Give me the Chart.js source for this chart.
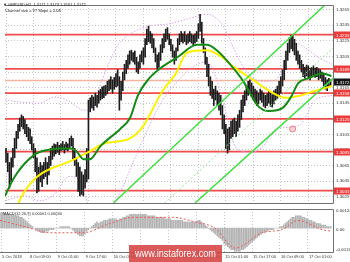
<!DOCTYPE html>
<html>
<head>
<meta charset="utf-8">
<title>GBPUSD H1</title>
<script src="https://cdn.jsdelivr.net/npm/chart.js@4.4.1/dist/chart.umd.min.js"></script>
<style>
  html, body { margin: 0; padding: 0; background: #fff; }
  #wrap { position: relative; width: 350px; height: 262px; overflow: hidden; }
  #main { position: absolute; left: 0; top: 0; }
  #macd { position: absolute; left: 0; top: 208px; }
  #mark { position: absolute; left: 129px; top: 245px; width: 93px; height: 17px;
          background: rgba(214, 66, 66, 0.88); color: #fff; overflow: hidden;
          font: 11px "Liberation Sans", Arial, sans-serif; line-height: 17px; white-space: nowrap; }
  #mark span { display: inline-block; transform-origin: 0 50%; margin-left: 6px; }
</style>
</head>
<body>
<div id="wrap">
  <canvas id="main" width="350" height="208"></canvas>
  <canvas id="macd" width="350" height="54"></canvas>
  <div id="mark"><span id="markText">www.instaforex.com</span></div>
</div>
<script>
// x axis: one step per H1 bar
const xMin = -0.6, xMax = 190.4;
const tickIdx = [0, 16, 32, 48, 64, 80, 96, 112, 128, 144, 160, 176];
const tickText = ['5 Oct 2018', '8 Oct 09:00', '9 Oct 01:00', '9 Oct 17:00', '10 Oct 09:00', '11 Oct 01:00',
                  '11 Oct 17:00', '12 Oct 09:00', '15 Oct 01:00', '15 Oct 17:00', '16 Oct 09:00', '17 Oct 01:00'];

const priceMin = 1.3017, priceMax = 1.3271;
const priceTicks = [1.3025, 1.3045, 1.3065, 1.3085, 1.3105, 1.3125, 1.3145, 1.3165, 1.3185, 1.3205, 1.3225, 1.3245, 1.3265];

const highs = [
  1.3087, 1.3081, 1.3069, 1.3075, 1.3087, 1.3100, 1.3109, 1.3118, 1.3126, 1.3130,
  1.3128, 1.3124, 1.3118, 1.3114, 1.3112, 1.3102, 1.3093, 1.3087, 1.3075, 1.3063,
  1.3069, 1.3065, 1.3069, 1.3075, 1.3069, 1.3077, 1.3087, 1.3090, 1.3093, 1.3092,
  1.3095, 1.3091, 1.3093, 1.3096, 1.3092, 1.3095, 1.3093, 1.3100, 1.3103, 1.3100,
  1.3087, 1.3075, 1.3069, 1.3063, 1.3057, 1.3053, 1.3060, 1.3087, 1.3149, 1.3152,
  1.3155, 1.3153, 1.3158, 1.3155, 1.3161, 1.3163, 1.3166, 1.3167, 1.3168, 1.3173,
  1.3175, 1.3179, 1.3175, 1.3178, 1.3183, 1.3188, 1.3179, 1.3173, 1.3185, 1.3195,
  1.3200, 1.3207, 1.3212, 1.3213, 1.3210, 1.3212, 1.3204, 1.3198, 1.3207, 1.3212,
  1.3216, 1.3228, 1.3240, 1.3244, 1.3237, 1.3234, 1.3228, 1.3216, 1.3207, 1.3210,
  1.3220, 1.3228, 1.3234, 1.3240, 1.3242, 1.3234, 1.3227, 1.3220, 1.3212, 1.3216,
  1.3228, 1.3234, 1.3237, 1.3234, 1.3237, 1.3232, 1.3234, 1.3237, 1.3234, 1.3232,
  1.3234, 1.3237, 1.3247, 1.3259, 1.3249, 1.3228, 1.3216, 1.3204, 1.3195, 1.3179,
  1.3173, 1.3163, 1.3167, 1.3161, 1.3158, 1.3155, 1.3142, 1.3130, 1.3118, 1.3112,
  1.3114, 1.3122, 1.3124, 1.3126, 1.3122, 1.3130, 1.3136, 1.3149, 1.3155, 1.3161,
  1.3167, 1.3173, 1.3175, 1.3171, 1.3167, 1.3163, 1.3161, 1.3158, 1.3163, 1.3161,
  1.3158, 1.3155, 1.3157, 1.3161, 1.3158, 1.3156, 1.3161, 1.3163, 1.3167, 1.3173,
  1.3179, 1.3188, 1.3200, 1.3212, 1.3222, 1.3229, 1.3232, 1.3232, 1.3227, 1.3222,
  1.3212, 1.3207, 1.3200, 1.3195, 1.3191, 1.3194, 1.3193, 1.3190, 1.3191, 1.3193,
  1.3190, 1.3191, 1.3189, 1.3188, 1.3185, 1.3182, 1.3178, 1.3175, 1.3177, 1.3175
];
const lows = [
  1.3069, 1.3057, 1.3036, 1.3044, 1.3063, 1.3075, 1.3087, 1.3100, 1.3109, 1.3115,
  1.3112, 1.3106, 1.3102, 1.3097, 1.3093, 1.3085, 1.3075, 1.3057, 1.3030, 1.3032,
  1.3044, 1.3038, 1.3048, 1.3051, 1.3041, 1.3053, 1.3065, 1.3073, 1.3077, 1.3080,
  1.3082, 1.3079, 1.3084, 1.3085, 1.3081, 1.3085, 1.3084, 1.3087, 1.3090, 1.3073,
  1.3065, 1.3051, 1.3032, 1.3026, 1.3028, 1.3026, 1.3036, 1.3044, 1.3048, 1.3134,
  1.3139, 1.3136, 1.3142, 1.3140, 1.3145, 1.3149, 1.3151, 1.3152, 1.3155, 1.3157,
  1.3161, 1.3163, 1.3158, 1.3163, 1.3166, 1.3167, 1.3136, 1.3149, 1.3161, 1.3175,
  1.3183, 1.3190, 1.3195, 1.3200, 1.3198, 1.3195, 1.3185, 1.3183, 1.3190, 1.3198,
  1.3195, 1.3204, 1.3220, 1.3224, 1.3222, 1.3216, 1.3210, 1.3198, 1.3189, 1.3191,
  1.3200, 1.3210, 1.3216, 1.3224, 1.3227, 1.3220, 1.3212, 1.3204, 1.3195, 1.3200,
  1.3212, 1.3220, 1.3224, 1.3222, 1.3224, 1.3220, 1.3222, 1.3224, 1.3222, 1.3220,
  1.3222, 1.3224, 1.3228, 1.3237, 1.3222, 1.3210, 1.3195, 1.3179, 1.3167, 1.3155,
  1.3151, 1.3142, 1.3149, 1.3142, 1.3136, 1.3130, 1.3112, 1.3106, 1.3087, 1.3081,
  1.3085, 1.3100, 1.3102, 1.3106, 1.3102, 1.3109, 1.3114, 1.3124, 1.3134, 1.3142,
  1.3149, 1.3155, 1.3158, 1.3153, 1.3149, 1.3146, 1.3142, 1.3144, 1.3149, 1.3146,
  1.3141, 1.3139, 1.3142, 1.3145, 1.3141, 1.3140, 1.3144, 1.3149, 1.3151, 1.3155,
  1.3158, 1.3167, 1.3175, 1.3188, 1.3200, 1.3210, 1.3215, 1.3212, 1.3207, 1.3200,
  1.3195, 1.3190, 1.3185, 1.3179, 1.3177, 1.3180, 1.3178, 1.3175, 1.3179, 1.3180,
  1.3178, 1.3179, 1.3175, 1.3177, 1.3173, 1.3167, 1.3163, 1.3161, 1.3166, 1.3168
];

// moving averages, [bar, price]
const maGreen = [[-0.6, 1.3026], [5.1, 1.3051], [16.6, 1.3079], [24.1, 1.3085], [30.9, 1.3087], [37.8, 1.3087],
  [40.7, 1.3084], [45.3, 1.3073], [48.7, 1.3073], [55.0, 1.3090], [66.5, 1.3112], [72.2, 1.3126], [76.8, 1.3155],
  [82.6, 1.3175], [89.4, 1.3189], [99.8, 1.3204], [111.2, 1.3220], [117.0, 1.3220], [122.7, 1.3213], [128.5, 1.3200],
  [138.2, 1.3173], [142.8, 1.3155], [147.4, 1.3140], [153.1, 1.3135], [161.1, 1.3139], [165.7, 1.3152],
  [170.3, 1.3171], [176.1, 1.3177], [184.1, 1.3183], [189.5, 1.3180]];
const maYellow = [[6.0, 1.3010], [9.2, 1.3026], [18.3, 1.3051], [37.8, 1.3071], [49.3, 1.3084], [56.8, 1.3093],
  [72.2, 1.3100], [79.7, 1.3115], [91.2, 1.3161], [98.6, 1.3182], [105.5, 1.3210], [117.0, 1.3213], [124.4, 1.3206],
  [134.2, 1.3189], [143.9, 1.3175], [153.1, 1.3161], [162.9, 1.3152], [171.5, 1.3155], [180.1, 1.3161], [189.8, 1.3167]];

// envelope bands (violet dotted)
const bandUpper = [[-0.6, 1.3149], [10.9, 1.3146], [19.5, 1.3145], [28.1, 1.3153], [35.5, 1.3149], [45.3, 1.3136],
  [49.3, 1.3136], [53.9, 1.3163], [59.6, 1.3195], [65.4, 1.3220], [72.2, 1.3234], [83.7, 1.3244], [95.2, 1.3247],
  [105.5, 1.3253], [117.0, 1.3259], [125.6, 1.3247], [131.3, 1.3222], [137.1, 1.3195], [142.8, 1.3179],
  [149.7, 1.3173], [157.1, 1.3175], [162.9, 1.3200], [168.6, 1.3222], [174.3, 1.3216], [181.8, 1.3204], [189.8, 1.3195]];
const bandLower = [[-0.6, 1.3020], [10.9, 1.3026], [19.5, 1.3020], [28.1, 1.3028], [36.7, 1.3051], [42.4, 1.3048],
  [48.2, 1.3014], [56.8, 1.2999], [65.4, 1.3026], [74.0, 1.3069], [82.6, 1.3112], [91.2, 1.3149], [99.8, 1.3173],
  [108.4, 1.3191], [117.0, 1.3198], [122.7, 1.3175], [128.5, 1.3130], [134.2, 1.3087], [142.8, 1.3082],
  [149.7, 1.3090], [157.1, 1.3112], [164.6, 1.3114], [171.5, 1.3118], [180.1, 1.3149], [189.8, 1.3155]];

// regression channel
const chanUpper = [[62.5, 1.3017], [191.5, 1.3283]];
const chanMiddle = [[92.3, 1.3017], [191.5, 1.3218]];
const chanLower = [[110.1, 1.3017], [191.5, 1.3179]];
const markPoint = [[166.9, 1.3112]];

const levels = [1.3233, 1.3189, 1.3158, 1.3125, 1.3083, 1.3033];
const softLevel = 1.3174;
const lastPrice = 1.3172;

// MACD(12,26,9)
const macdMin = -0.00155, macdMax = 0.00124;
const macdHist = [
  0.0010, 0.0010, 0.0010, 0.0009, 0.0009, 0.0009, 0.0009, 0.0009, 0.0008, 0.0008, 0.0008, 0.0007, 0.0007, 0.0006, 0.0005, 0.0004, 0.0003,
  0.0002, 0.0001, 0.0000, -0.0001, -0.0002, -0.0002, -0.0003, -0.0003, -0.0003, -0.0002, -0.0002, -0.0001,
  -0.0001, -0.0001, 0.0000, 0.0000, 0.0000, 0.0001, 0.0001, 0.0001, 0.0001, 0.0001, 0.0001, 0.0000, -0.0001, -0.0002, -0.0003, -0.0004, -0.0005,
  -0.0005, -0.0005, -0.0004, -0.0002, -0.0001, 0.0000, 0.0001, 0.0002, 0.0003, 0.0004,
  0.0003, 0.0004, 0.0004, 0.0005, 0.0005, 0.0005, 0.0006, 0.0006, 0.0006, 0.0006,
  0.0006, 0.0005, 0.0006, 0.0006, 0.0007, 0.0007, 0.0008, 0.0008, 0.0009, 0.0009,
  0.0009, 0.0009, 0.0009, 0.0009, 0.0009, 0.0009, 0.0009, 0.0009, 0.0008, 0.0008,
  0.0008, 0.0008, 0.0008, 0.0007, 0.0007, 0.0007, 0.0007, 0.0007, 0.0006, 0.0006,
  0.0006, 0.0006, 0.0005, 0.0005, 0.0005,
  0.0005, 0.0005, 0.0005, 0.0005, 0.0004, 0.0004, 0.0004, 0.0004, 0.0004, 0.0004, 0.0004, 0.0004, 0.0005, 0.0005,
  0.0004, 0.0003, 0.0002, 0.0001, 0.0000, -0.0001, -0.0002, -0.0003, -0.0004,
  -0.0005, -0.0006, -0.0007, -0.0008, -0.0010, -0.0011, -0.0012, -0.0013, -0.0014, -0.0014, -0.0015, -0.0015, -0.0015,
  -0.0015, -0.0014, -0.0014, -0.0013, -0.0012, -0.0011, -0.0010, -0.0009, -0.0008, -0.0007, -0.0006, -0.0005, -0.0004,
  -0.0003, -0.0003, -0.0002, -0.0002, -0.0001, -0.0001, -0.0001, 0.0000, 0.0000, 0.0000, 0.0001, 0.0001, 0.0002, 0.0003, 0.0004, 0.0005,
  0.0006, 0.0007, 0.0007, 0.0008, 0.0008, 0.0008, 0.0008, 0.0007, 0.0007, 0.0006, 0.0006, 0.0005,
  0.0005, 0.0004, 0.0004, 0.0003, 0.0003, 0.0003, 0.0002, 0.0002, 0.0002, 0.0001, 0.0001, 0.0001
];
const macdSignal = [[-0.6, 0.0005], [13.7, 0.0001], [28.1, -0.0003], [47.0, -0.0003], [62.5, 0.0003], [75.7, 0.0007],
  [98.6, 0.0007], [111.2, 0.0004], [122.7, 0.0000], [134.2, -0.0013], [149.7, -0.0003], [161.1, -0.0001],
  [170.3, 0.0005], [184.1, -0.0001], [189.8, -0.0002]];

const FONT = '"Liberation Sans", Arial, sans-serif';
const pts = arr => arr.map(p => ({ x: p[0], y: p[1] }));

function xAxis(height) {
  return {
    type: 'linear', min: xMin, max: xMax, offset: false, position: 'bottom',
    grid: { color: '#c4c4c4', drawTicks: false, offset: false },
    border: { display: false, dash: [1, 2] },
    ticks: { display: false },
    afterBuildTicks: s => { s.ticks = tickIdx.map(v => ({ value: v })); },
    afterFit: s => { s.height = height; }
  };
}

const mainDecor = {
  id: 'mainDecor',
  afterDraw(chart) {
    const { ctx, chartArea: a, scales: { y } } = chart;
    ctx.save();
    ctx.strokeStyle = '#707070';
    ctx.lineWidth = 1;
    ctx.beginPath();
    ctx.moveTo(a.left, a.top + 0.5);
    ctx.lineTo(a.right + 0.5, a.top + 0.5);
    ctx.lineTo(a.right + 0.5, a.bottom + 0.5);
    ctx.lineTo(a.left, a.bottom + 0.5);
    ctx.stroke();

    ctx.font = '4.4px ' + FONT;
    ctx.textBaseline = 'middle';
    ctx.fillStyle = '#333';
    priceTicks.forEach(v => ctx.fillText(v.toFixed(4), a.right + 3, y.getPixelForValue(v)));

    const tag = (v, bg) => {
      const py = Math.round(y.getPixelForValue(v));
      ctx.fillStyle = bg;
      ctx.fillRect(a.right + 1, py - 3.5, 16, 7);
      ctx.fillStyle = '#fff';
      ctx.fillText(v.toFixed(4), a.right + 3, py + 0.5);
    };
    levels.forEach(v => tag(v, '#ec3b3b'));
    tag(lastPrice, '#151515');

    ctx.fillStyle = '#222';
    ctx.font = '4px ' + FONT;
    ctx.textBaseline = 'alphabetic';
    ctx.fillText('\u25BC GBPUSD,H1  1.3171 1.3173 1.3161 1.3172', 3, 6);
    ctx.fillText('Channel size = 97 Slope = 2.08', 5, 12);
    ctx.restore();
  }
};

const macdDecor = {
  id: 'macdDecor',
  afterDraw(chart) {
    const { ctx, chartArea: a, scales: { x, y } } = chart;
    ctx.save();
    ctx.strokeStyle = '#707070';
    ctx.lineWidth = 1;
    ctx.beginPath();
    ctx.moveTo(a.left, a.top + 0.5);
    ctx.lineTo(a.right + 0.5, a.top + 0.5);
    ctx.lineTo(a.right + 0.5, a.bottom + 0.5);
    ctx.lineTo(a.left, a.bottom + 0.5);
    ctx.stroke();

    ctx.fillStyle = '#333';
    ctx.font = '4.4px ' + FONT;
    ctx.textBaseline = 'middle';
    ctx.fillText(macdMax.toFixed(5), a.right + 3, a.top + 2);
    ctx.fillText('0.00', a.right + 3, y.getPixelForValue(0) + 2);
    ctx.fillText(macdMin.toFixed(5), a.right + 3, a.bottom - 2);

    ctx.font = '4px ' + FONT;
    tickIdx.forEach((v, k) => ctx.fillText(tickText[k], x.getPixelForValue(v) + 1, a.bottom + 4.5));

    ctx.textBaseline = 'alphabetic';
    ctx.fillText('MACD(12,26,9) 0.00001 0.00040', 3, a.top + 6);
    ctx.restore();
  }
};

const flatLine = (v, color, width, order) => ({
  type: 'line', data: [{ x: xMin, y: v }, { x: xMax, y: v }],
  borderColor: color, borderWidth: width, pointRadius: 0, order: order
});
const curve = (arr, color, width, dash, order) => ({
  type: 'line', data: pts(arr), borderColor: color, borderWidth: width, borderDash: dash,
  pointRadius: 0, cubicInterpolationMode: 'monotone', order: order
});

const mainSets = [
  {
    type: 'bar', data: highs.map((h, i) => ({ x: i, y: [lows[i], h] })),
    backgroundColor: '#1c1c1c', barThickness: 1, order: 4
  },
  curve(maGreen, '#138a13', 2, [], 3),
  curve(maYellow, '#fff000', 2, [], 3),
  curve(bandUpper, '#d9a4ea', 1, [1.5, 1.5], 5),
  curve(bandLower, '#d9a4ea', 1, [1.5, 1.5], 5),
  curve(chanUpper, '#3fe03f', 1.5, [], 2),
  curve(chanMiddle, '#8fe88f', 1, [2, 2], 2),
  curve(chanLower, '#3fe03f', 1.5, [], 2),
  {
    type: 'scatter', data: pts(markPoint), pointRadius: 3, pointBorderWidth: 1,
    pointBorderColor: '#f07a7a', pointBackgroundColor: 'rgba(250,190,190,0.6)', order: 1
  },
  flatLine(softLevel, '#f6b39e', 1.5, 7)
].concat(levels.map(v => flatLine(v, 'rgba(238,56,56,0.9)', 1.8, 6)));

const common = {
  responsive: false, animation: false, devicePixelRatio: 1,
  layout: { padding: 0 },
  plugins: { legend: { display: false }, tooltip: { enabled: false } }
};

new Chart(document.getElementById('main'), {
  type: 'bar',
  data: { datasets: mainSets },
  options: Object.assign({}, common, {
    scales: {
      x: xAxis(1),
      y: {
        type: 'linear', position: 'right', min: priceMin, max: priceMax, beginAtZero: false,
        grid: { color: '#c4c4c4', drawTicks: false },
        border: { display: false, dash: [1, 2] },
        ticks: { display: false },
        afterBuildTicks: s => { s.ticks = priceTicks.map(v => ({ value: v })); },
        afterFit: s => { s.width = 17; }
      }
    }
  }),
  plugins: [mainDecor]
});

new Chart(document.getElementById('macd'), {
  type: 'bar',
  data: {
    datasets: [
      curve(macdSignal, '#ee5a5a', 1, [2, 2], 1),
      { type: 'bar', data: macdHist.map((v, i) => ({ x: i, y: v })), backgroundColor: '#b3b3b3', barThickness: 1, order: 2 }
    ]
  },
  options: Object.assign({}, common, {
    layout: { padding: { top: 1 } },
    scales: {
      x: xAxis(10),
      y: {
        type: 'linear', position: 'right', min: macdMin, max: macdMax,
        grid: { display: false }, border: { display: false },
        ticks: { display: false },
        afterFit: s => { s.width = 17; }
      }
    }
  }),
  plugins: [macdDecor]
});

// fit the watermark text into its box
const mt = document.getElementById('markText');
mt.style.transform = 'scaleX(' + (81 / mt.offsetWidth).toFixed(3) + ')';
</script>
</body>
</html>
